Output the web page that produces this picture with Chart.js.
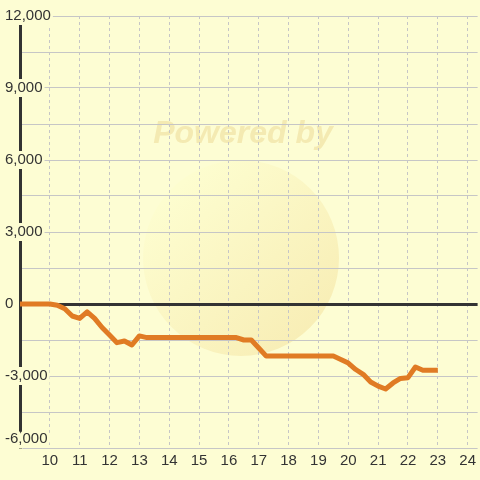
<!DOCTYPE html>
<html><head><meta charset="utf-8">
<script src="https://cdn.jsdelivr.net/npm/chart.js@4"></script>
<style>html,body{margin:0;padding:0;background:#fdfdd3}#wrap{width:480px;height:480px}</style>
</head><body><div id="wrap"><canvas id="c" width="480" height="480"></canvas></div>
<script>
// Hours of the day (x) and cumulative value (y)
const hours = [9, 10, 10.25, 10.5, 10.75, 11, 11.25, 11.5, 11.75, 12, 12.25, 12.5, 12.75, 13, 13.25,
  16.25, 16.5, 16.75, 17, 17.25, 19.5, 19.75, 20, 20.25, 20.5, 20.75, 21, 21.25, 21.5, 21.75,
  22, 22.25, 22.5, 22.75, 23];
const values = [0, 0, -50, -200, -500, -600, -330, -600, -980, -1290, -1610, -1540, -1710, -1330, -1400,
  -1400, -1500, -1500, -1830, -2170, -2170, -2310, -2460, -2730, -2930, -3250, -3420, -3540, -3290, -3100,
  -3070, -2625, -2760, -2760, -2760];
const xTickLabels = [10, 11, 12, 13, 14, 15, 16, 17, 18, 19, 20, 21, 22, 23, 24];
const yTickLabels = [-6000, -3000, 0, 3000, 6000, 9000, 12000];

const BG = '#fdfdd3';
const bgPlugin = {
  id: 'bg',
  beforeDraw(chart) {
    const ctx = chart.ctx;
    ctx.save();
    ctx.fillStyle = BG;
    ctx.fillRect(0, 0, chart.width, chart.height);
    const g = ctx.createLinearGradient(175, 190, 310, 330);
    g.addColorStop(0, '#fdfdcf');
    g.addColorStop(1, '#f8eeb6');
    ctx.beginPath();
    ctx.arc(241, 258, 98, 0, Math.PI * 2);
    ctx.fillStyle = g;
    ctx.fill();
    ctx.font = 'italic bold 32px "Liberation Sans", Arial, sans-serif';
    ctx.fillStyle = '#f4eab2';
    ctx.textAlign = 'center';
    ctx.textBaseline = 'middle';
    ctx.fillText('Powered by', 243, 134);
    ctx.restore();
  }
};

const font = { family: '"Liberation Sans", Arial, sans-serif', size: 15 };
const isBottom = (c) => c.tick && c.tick.value === yTickLabels[0];

new Chart(document.getElementById('c'), {
  type: 'line',
  data: {
    datasets: [{
      data: hours.map((h, i) => ({ x: h, y: values[i] })),
      borderColor: '#e07b24',
      borderWidth: 5,
      borderJoinStyle: 'round',
      pointRadius: 0,
      tension: 0,
      fill: false
    }]
  },
  options: {
    responsive: false,
    devicePixelRatio: 1,
    animation: false,
    layout: { padding: { left: 5, right: 0, top: 16, bottom: 0 } },
    plugins: { legend: { display: false }, tooltip: { enabled: false } },
    scales: {
      x: {
        type: 'linear',
        min: 9,
        max: 9 + 46 / 3,
        afterBuildTicks: (s) => { s.ticks = xTickLabels.map(v => ({ value: v })); },
        afterFit: (s) => { s.height = 32; },
        border: { display: false, dash: [3, 3] },
        grid: { color: '#c6c6c6', lineWidth: 1, drawTicks: false, tickLength: 0 },
        ticks: { color: '#333', font, padding: 4, autoSkip: false, maxRotation: 0,
          callback: (v) => String(v) }
      },
      y: {
        type: 'linear',
        min: -6000,
        max: 12000,
        afterBuildTicks: (s) => {
          const t = [];
          for (let v = yTickLabels[0]; v <= yTickLabels[yTickLabels.length - 1]; v += 1500) t.push({ value: v });
          s.ticks = t;
        },
        afterFit: (s) => { s.width = 15; },
        border: { display: true, color: '#333', width: 3 },
        grid: {
          drawTicks: false, tickLength: 0,
          color: (c) => c.tick && c.tick.value === 0 ? '#333' : '#c6c6c6',
          lineWidth: (c) => c.tick && c.tick.value === 0 ? 3 : 1
        },
        ticks: {
          color: '#333', font, mirror: true, padding: -15, crossAlign: 'near', autoSkip: false,
          showLabelBackdrop: (c) => yTickLabels.includes(c.tick.value) && !isBottom(c),
          backdropColor: BG,
          backdropPadding: { left: 0, right: 2, top: 0, bottom: 0 },
          textStrokeColor: (c) => isBottom(c) ? BG : '',
          textStrokeWidth: (c) => isBottom(c) ? 7 : 0,
          callback: (v) => {
            if (!yTickLabels.includes(v)) return '';
            const s = v.toLocaleString('en-US');
            return v === yTickLabels[0] ? [s, ''] : s;
          }
        }
      }
    }
  },
  plugins: [bgPlugin]
});
</script></body></html>
